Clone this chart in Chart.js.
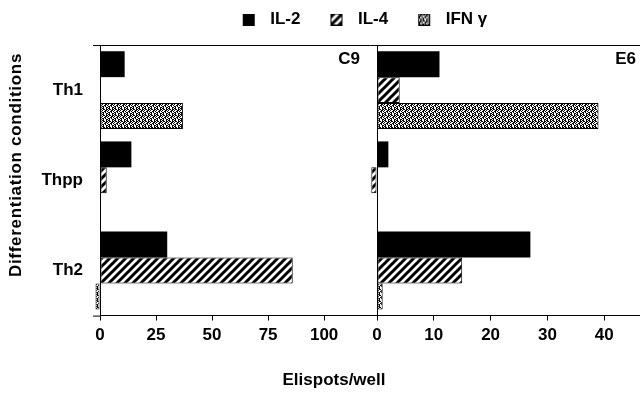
<!DOCTYPE html>
<html><head><meta charset="utf-8">
<script src="https://cdn.jsdelivr.net/npm/chart.js@4/dist/chart.umd.min.js"></script>
<style>html,body{margin:0;padding:0;background:#fff}</style>
</head><body>
<canvas id="c" width="640" height="393"></canvas>
<script>
// ---- data ----
const categories = ['Th1', 'Thpp', 'Th2'];
const seriesNames = ['IL-2', 'IL-4', 'IFN γ'];
const c9_il2 = [11, 14, 30];
const c9_il4 = [0, 3, 86];
const c9_ifn = [37, 0, -2];
const e6_il2 = [11, 2, 27];
const e6_il4 = [4, -1, 15];
const e6_ifn = [39, 0, 1];
const ticksC9 = [0, 25, 50, 75, 100];
const ticksE6 = [0, 10, 20, 30, 40];
const panelLabels = ['C9', 'E6'];
const xTitle = 'Elispots/well';
const yTitle = 'Differentiation conditions';

// ---- fills ----
const FAM = '"Liberation Sans", Arial, Helvetica, sans-serif';
const FONT = {family: FAM, size: 17, weight: 'bold'};

function hatchTile() {
  const c = document.createElement('canvas'); c.width = 8; c.height = 8;
  const g = c.getContext('2d');
  g.fillStyle = '#fff'; g.fillRect(0, 0, 8, 8);
  g.strokeStyle = '#000'; g.lineWidth = 3;
  g.beginPath();
  g.moveTo(-2, 10); g.lineTo(10, -2);
  g.moveTo(-3, 3); g.lineTo(3, -3);
  g.moveTo(5, 11); g.lineTo(11, 5);
  g.stroke();
  return c;
}
function dotTile() {
  const rows = ['110010', '011011', '100110', '001101', '110100', '010011'];
  const c = document.createElement('canvas'); c.width = 6; c.height = 6;
  const g = c.getContext('2d');
  g.fillStyle = '#fff'; g.fillRect(0, 0, 6, 6);
  g.fillStyle = '#000';
  rows.forEach((r, y) => { for (let x = 0; x < r.length; x++) if (r[x] === '1') g.fillRect(x, y, 1, 1); });
  return c;
}
const mainCtx = document.getElementById('c').getContext('2d');
const hatchFill = mainCtx.createPattern(hatchTile(), 'repeat');
const dotFill = mainCtx.createPattern(dotTile(), 'repeat');
const fills = ['#000', hatchFill, dotFill];

function legendMarker(kind) {
  const L = 20, S = 12, R = 7;
  const c = document.createElement('canvas'); c.width = L + S + R; c.height = S;
  const g = c.getContext('2d');
  if (kind === 0) g.fillStyle = '#000';
  else g.fillStyle = g.createPattern(kind === 1 ? hatchTile() : dotTile(), 'repeat');
  g.fillRect(L, 0, S, S);
  g.strokeStyle = '#000'; g.lineWidth = 1; g.strokeRect(L + 0.5, 0.5, S - 1, S - 1);
  return c;
}
const markers = [0, 1, 2].map(legendMarker);

function ds(label, data, axis, k) {
  return {
    label: label, data: data, xAxisID: axis, stack: 's' + k,
    backgroundColor: fills[k], borderColor: '#000', borderWidth: k === 0 ? 0 : 1,
    borderSkipped: false, categoryPercentage: 0.862, barPercentage: 1, clip: false
  };
}

const textPlugin = {
  id: 'texts',
  afterLayout(chart) {
    if (chart.legend) {
      chart.legend.left -= 15; chart.legend.right -= 15;
      chart.legend.top += 1; chart.legend.bottom += 1;
    }
  },
  afterDraw(chart) {
    const g = chart.ctx, a = chart.chartArea;
    const x1 = chart.scales.x1, x2 = chart.scales.x2;
    g.save();
    // small axis-line extensions on the left, as in the reference
    g.strokeStyle = '#000'; g.lineWidth = 1;
    g.beginPath();
    g.moveTo(a.left - 7, a.top + 0.5); g.lineTo(a.left, a.top + 0.5);
    g.moveTo(a.left - 7, a.bottom + 0.5); g.lineTo(a.left, a.bottom + 0.5);
    g.stroke();
    g.fillStyle = '#000';
    g.font = 'bold 17px ' + FAM;
    g.textBaseline = 'middle';
    g.textAlign = 'right';
    g.fillText(panelLabels[0], x1.right - 17, a.top + 14);
    g.fillText(panelLabels[1], x2.right - 4, a.top + 14);
    g.textAlign = 'center';
    g.fillText(xTitle, 334, 380);
    g.translate(16, 165);
    g.rotate(-Math.PI / 2);
    try { g.letterSpacing = '0.7px'; } catch (e) {}
    g.fillText(yTitle, 0, 0);
    g.restore();
  }
};

new Chart(document.getElementById('c'), {
  type: 'bar',
  data: {
    labels: categories,
    datasets: [
      ds(seriesNames[0], c9_il2, 'x1', 0),
      ds(seriesNames[1], c9_il4, 'x1', 1),
      ds(seriesNames[2], c9_ifn, 'x1', 2),
      ds(seriesNames[0], e6_il2, 'x2', 0),
      ds(seriesNames[1], e6_il4, 'x2', 1),
      ds(seriesNames[2], e6_ifn, 'x2', 2)
    ]
  },
  options: {
    indexAxis: 'y',
    responsive: false,
    animation: false,
    devicePixelRatio: 1,
    layout: {padding: {top: 0, bottom: 42, left: 0, right: 0}},
    plugins: {
      tooltip: {enabled: false},
      legend: {
        display: true, position: 'top', fullSize: false,
        labels: {
          color: '#000', font: FONT, padding: 10,
          usePointStyle: true, pointStyleWidth: 39,
          generateLabels: () => seriesNames.map((n, i) => ({
            text: n, fillStyle: fills[i], strokeStyle: '#000', lineWidth: 1,
            pointStyle: markers[i], hidden: false, datasetIndex: i, fontColor: '#000'
          }))
        }
      }
    },
    scales: {
      y: {
        type: 'category', offset: true,
        grid: {display: true, drawOnChartArea: false, drawTicks: false},
        border: {display: true, color: '#000', width: 1},
        ticks: {color: '#000', font: FONT, padding: 17},
        afterFit(s) { s.width = 100; }
      },
      x1: {
        type: 'linear', position: 'bottom', stack: 'panels', stackWeight: 277,
        min: 0, max: 123.6,
        afterBuildTicks(s) { s.ticks = ticksC9.map(v => ({value: v})); },
        grid: {display: true, drawOnChartArea: false, drawTicks: true, tickLength: 5, color: '#000', tickColor: '#000'},
        border: {display: true, color: '#000', width: 1},
        ticks: {color: '#000', font: FONT, padding: 5, maxRotation: 0, autoSkip: false}
      },
      x2: {
        type: 'linear', position: 'bottom', stack: 'panels', stackWeight: 263,
        min: 0, max: 46.3,
        afterBuildTicks(s) { s.ticks = ticksE6.map(v => ({value: v})); },
        grid: {
          display: true, drawOnChartArea: true, drawTicks: true, tickLength: 5, tickColor: '#000',
          color: c => (c.tick && c.tick.value === 0) ? '#000' : 'rgba(0,0,0,0)'
        },
        border: {display: true, color: '#000', width: 1},
        ticks: {color: '#000', font: FONT, padding: 5, maxRotation: 0, autoSkip: false}
      },
      xTop: {
        type: 'linear', position: 'top', min: 0, max: 1,
        ticks: {display: false},
        grid: {display: true, drawOnChartArea: false, drawTicks: true, tickLength: 8, color: 'rgba(0,0,0,0)', tickColor: 'rgba(0,0,0,0)'},
        border: {display: true, color: '#000', width: 1}
      }
    }
  },
  plugins: [textPlugin]
});
</script>
</body></html>
